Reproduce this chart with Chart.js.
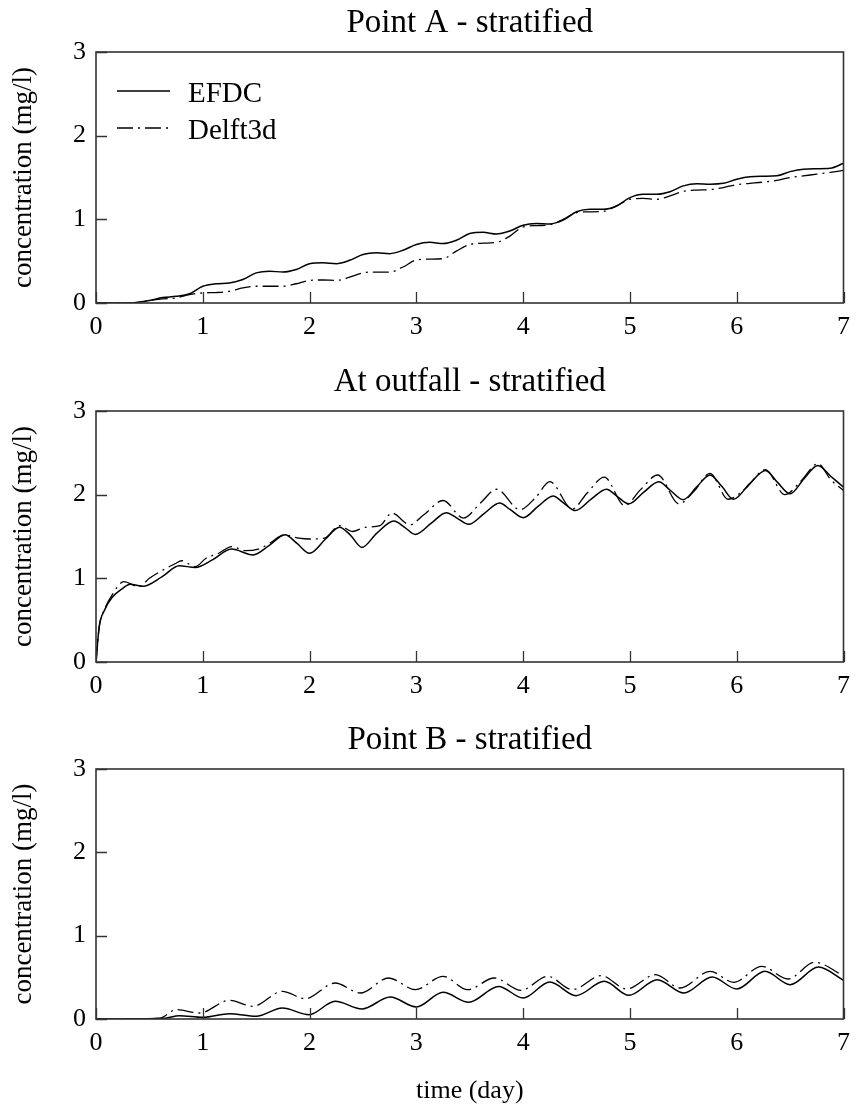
<!DOCTYPE html>
<html>
<head>
<meta charset="utf-8">
<script src="https://cdn.jsdelivr.net/npm/chart.js@4.4.0/dist/chart.umd.min.js"></script>
<style>
  html, body { margin: 0; padding: 0; background: #fff; }
  #wrap { position: relative; width: 859px; height: 1116px; }
  .panel { position: absolute; left: 0; width: 859px; }
</style>
</head>
<body>
<div id="wrap">
  <div class="panel" style="top:0px"><canvas id="c1" width="859" height="343"></canvas></div>
  <div class="panel" style="top:359px"><canvas id="c2" width="859" height="343"></canvas></div>
  <div class="panel" style="top:717px"><canvas id="c3" width="859" height="398"></canvas></div>
</div>
<script>
// Point A - stratified
const timeA  = [0,0.25,0.375,0.5,0.625,0.75,0.875,1.0,1.125,1.25,1.375,1.5,1.625,1.75,1.875,2.0,2.125,2.25,2.375,2.5,2.625,2.75,2.875,3.0,3.125,3.25,3.375,3.5,3.625,3.75,3.875,4.0,4.125,4.25,4.375,4.5,4.625,4.75,4.875,5.0,5.125,5.25,5.375,5.5,5.625,5.75,5.875,6.0,6.125,6.25,6.375,6.5,6.625,6.75,6.875,7.0];
const efdcA  = [0,0,0.005,0.03,0.065,0.08,0.11,0.2,0.23,0.24,0.28,0.36,0.38,0.37,0.4,0.47,0.48,0.47,0.51,0.58,0.6,0.59,0.63,0.7,0.725,0.71,0.75,0.83,0.845,0.825,0.86,0.93,0.95,0.945,0.99,1.09,1.12,1.12,1.16,1.26,1.3,1.3,1.33,1.4,1.425,1.42,1.43,1.48,1.51,1.515,1.52,1.57,1.6,1.605,1.61,1.67];
const delftA = [0,0,0.005,0.03,0.05,0.06,0.1,0.12,0.125,0.14,0.18,0.2,0.2,0.2,0.23,0.27,0.275,0.27,0.31,0.36,0.37,0.37,0.43,0.515,0.525,0.53,0.62,0.7,0.715,0.725,0.8,0.91,0.925,0.935,1.0,1.08,1.09,1.095,1.16,1.24,1.25,1.24,1.28,1.335,1.35,1.355,1.38,1.415,1.43,1.445,1.465,1.5,1.52,1.54,1.56,1.585];

// At outfall - stratified
const timeOutEfdc = [0,0.03,0.08,0.15,0.25,0.32,0.44,0.62,0.78,0.93,1.09,1.27,1.47,1.62,1.77,1.88,2.0,2.15,2.28,2.38,2.49,2.63,2.79,2.89,2.99,3.14,3.28,3.38,3.49,3.64,3.78,3.88,4.0,4.14,4.28,4.38,4.49,4.64,4.78,4.88,4.99,5.13,5.27,5.38,5.5,5.63,5.75,5.86,5.97,6.12,6.27,6.38,6.5,6.63,6.76,6.88,7.0];
const efdcOut     = [0,0.42,0.62,0.77,0.88,0.93,0.905,1.02,1.15,1.13,1.22,1.35,1.28,1.39,1.52,1.42,1.3,1.47,1.61,1.52,1.37,1.54,1.685,1.61,1.525,1.66,1.785,1.72,1.645,1.78,1.9,1.82,1.725,1.86,1.985,1.9,1.81,1.95,2.065,1.98,1.89,2.03,2.155,2.05,1.94,2.1,2.235,2.1,1.945,2.13,2.29,2.15,2.01,2.19,2.35,2.22,2.09];
const timeOutDelft = [0,0.03,0.08,0.15,0.26,0.4,0.5,0.6,0.75,0.8,0.93,1.03,1.15,1.27,1.4,1.52,1.63,1.76,1.9,2.0,2.14,2.28,2.4,2.52,2.66,2.77,2.94,3.07,3.25,3.44,3.6,3.75,3.97,4.12,4.25,4.46,4.6,4.76,4.95,5.1,5.26,5.46,5.6,5.75,5.92,6.08,6.27,6.45,6.6,6.76,6.88,7.0];
const delftOut     = [0,0.42,0.63,0.8,0.96,0.9,1.0,1.08,1.18,1.21,1.14,1.24,1.3,1.38,1.33,1.35,1.42,1.52,1.48,1.47,1.48,1.63,1.56,1.61,1.63,1.78,1.64,1.76,1.93,1.72,1.9,2.065,1.82,1.97,2.155,1.83,2.02,2.21,1.87,2.06,2.235,1.89,2.04,2.255,1.945,2.07,2.3,2.0,2.16,2.37,2.18,2.05];

// Point B - stratified
const timeBEfdc = [0,0.3,0.55,0.65,0.78,1.0,1.25,1.5,1.745,1.995,2.24,2.49,2.755,3.0,3.25,3.49,3.77,4.0,4.25,4.495,4.76,4.99,5.256,5.505,5.77,6.0,6.265,6.5,6.765,7.0];
const efdcB     = [0,0,0.005,0.01,0.04,0.02,0.064,0.032,0.132,0.052,0.212,0.12,0.264,0.144,0.32,0.2,0.39,0.252,0.444,0.28,0.452,0.284,0.472,0.312,0.504,0.36,0.572,0.412,0.624,0.464];
const timeBDelft = [0,0.4,0.6,0.75,0.97,1.25,1.47,1.745,1.96,2.24,2.475,2.74,2.99,3.25,3.48,3.73,3.98,4.23,4.46,4.73,4.97,5.24,5.47,5.75,5.97,6.235,6.48,6.73,7.0];
const delftB     = [0,0,0.01,0.112,0.072,0.224,0.152,0.332,0.244,0.432,0.312,0.492,0.352,0.512,0.352,0.492,0.344,0.512,0.352,0.52,0.36,0.532,0.372,0.572,0.44,0.632,0.48,0.68,0.52];

const xTicks = [0, 1, 2, 3, 4, 5, 6, 7];
const yTicks = [0, 1, 2, 3];
const seriesNames = ['EFDC', 'Delft3d'];

const FONT = '"Liberation Serif", "Times New Roman", Times, serif';
const DASHDOT = [16, 5, 2, 5];

const pairs = (t, v) => t.map((x, i) => ({ x: x, y: v[i] }));

// frame box, inward ticks, panel title and optional legend
const framePlugin = {
  id: 'frame',
  afterDraw(chart, args, opts) {
    const { ctx, chartArea: a, scales } = chart;
    const x = scales.x, y = scales.y;
    ctx.save();
    ctx.strokeStyle = '#333';
    ctx.lineWidth = 1.6;
    ctx.strokeRect(a.left, a.top, a.right - a.left, a.bottom - a.top);
    ctx.lineWidth = 1.3;
    ctx.beginPath();
    x.ticks.forEach(t => {
      const px = Math.round(x.getPixelForValue(t.value)) + 0.5;
      ctx.moveTo(px, a.bottom); ctx.lineTo(px, a.bottom - 11);
    });
    y.ticks.forEach(t => {
      const py = Math.round(y.getPixelForValue(t.value)) + 0.5;
      ctx.moveTo(a.left, py); ctx.lineTo(a.left + 11, py);
    });
    ctx.stroke();

    ctx.fillStyle = '#000';
    ctx.font = '33px ' + FONT;
    ctx.textAlign = 'center';
    ctx.textBaseline = 'alphabetic';
    ctx.fillText(opts.title, (a.left + a.right) / 2, a.top - 20);

    if (opts.legend) {
      ctx.font = '29px ' + FONT;
      ctx.textAlign = 'left';
      chart.data.datasets.forEach((ds, i) => {
        const ly = a.top + 39 + i * 37;
        ctx.strokeStyle = '#000';
        ctx.lineWidth = ds.borderWidth;
        ctx.setLineDash(ds.borderDash || []);
        ctx.beginPath();
        ctx.moveTo(a.left + 21, ly); ctx.lineTo(a.left + 74, ly);
        ctx.stroke();
        ctx.setLineDash([]);
        ctx.fillText(ds.label, a.left + 92, ly + 11);
      });
    }
    ctx.restore();
  }
};

function makePanel(id, efdcPts, delftPts, title, legend, xTitle) {
  const xScale = {
    type: 'linear', min: 0, max: 7,
    afterBuildTicks: s => { s.ticks = xTicks.map(v => ({ value: v })); },
    grid: { display: false, drawTicks: false },
    border: { display: false },
    ticks: { color: '#000', font: { family: FONT, size: 26 }, padding: 9, maxRotation: 0 },
    afterFit: s => { s.height = xTitle ? 96 : 40; }
  };
  if (xTitle) {
    xScale.title = { display: true, text: xTitle, color: '#000', font: { family: FONT, size: 26 }, padding: { top: 0, bottom: 8 } };
  }
  return new Chart(document.getElementById(id), {
    type: 'line',
    data: {
      datasets: [
        { label: seriesNames[0], data: efdcPts, borderColor: '#000', borderWidth: 1.5, pointRadius: 0, cubicInterpolationMode: 'monotone', fill: false },
        { label: seriesNames[1], data: delftPts, borderColor: '#000', borderWidth: 1.3, borderDash: DASHDOT, pointRadius: 0, cubicInterpolationMode: 'monotone', fill: false }
      ]
    },
    options: {
      responsive: false,
      animation: false,
      devicePixelRatio: 1,
      layout: { padding: { top: 52, right: 12, left: 0, bottom: 0 } },
      plugins: {
        legend: { display: false },
        tooltip: { enabled: false },
        frame: { title: title, legend: legend }
      },
      scales: {
        x: xScale,
        y: {
          type: 'linear', min: 0, max: 3,
          afterBuildTicks: s => { s.ticks = yTicks.map(v => ({ value: v })); },
          grid: { display: false, drawTicks: false },
          border: { display: false },
          ticks: { color: '#000', font: { family: FONT, size: 26 }, padding: 10 },
          title: { display: true, text: 'concentration (mg/l)', color: '#000', font: { family: FONT, size: 27 }, padding: { top: 8, bottom: 0 } },
          afterFit: s => { s.width = 96; }
        }
      }
    },
    plugins: [framePlugin]
  });
}

makePanel('c1', pairs(timeA, efdcA), pairs(timeA, delftA), 'Point A - stratified', true, null);
makePanel('c2', pairs(timeOutEfdc, efdcOut), pairs(timeOutDelft, delftOut), 'At outfall - stratified', false, null);
makePanel('c3', pairs(timeBEfdc, efdcB), pairs(timeBDelft, delftB), 'Point B - stratified', false, 'time (day)');
</script>
</body>
</html>
